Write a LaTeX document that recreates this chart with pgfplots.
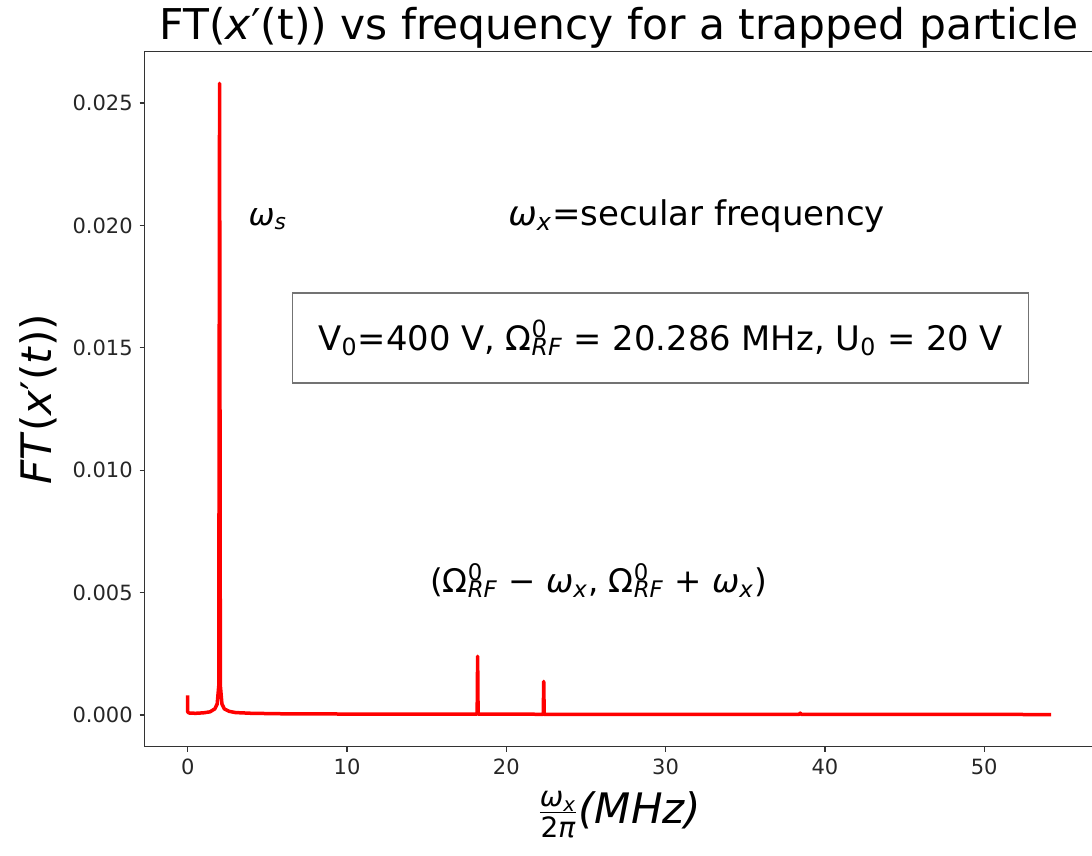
\documentclass[border=0pt]{standalone}
\usepackage{fontspec}
\setmainfont{DejaVu Sans}
\usepackage{pgfplots}
\pgfplotsset{compat=1.18}
\newcommand{\om}{\textit{ω}}
\newcommand{\Omrf}{Ω\rlap{\textsuperscript{0}}\textsubscript{\textit{RF}}}
\begin{document}
\begin{tikzpicture}
\begin{axis}[
  at={(0,0)}, anchor=south west,
  scale only axis, width=474.7pt, height=347.4pt,
  xmin=-2.7, xmax=56.9, ymin=-0.00129, ymax=0.02709,
  xtick={0,10,20,30,40,50},
  ytick={0,0.005,0.01,0.015,0.02,0.025},
  scaled y ticks=false,
  yticklabel style={/pgf/number format/.cd, fixed, fixed zerofill, precision=3},
  /pgf/number format/assume math mode=true,
  tick label style={font=\fontsize{10.5}{12}\selectfont, text=black!85},
  tick align=outside, xtick pos=left, ytick pos=left,
  major tick length=2.5pt,
  tick style={black!80, line width=0.6pt},
  axis line style={black!80, line width=0.6pt},
  clip=false,
]
\addplot[red, line width=1.75pt, line join=round] coordinates {
(0,0.00080) (0,0.00012) (0.1,0.00008) (0.5,0.00007) (1.0,0.00009) (1.4,0.00013)
(1.7,0.00025) (1.85,0.00045) (1.95,0.0012) (2.0,0.0258) (2.05,0.0012) (2.15,0.00045)
(2.3,0.00025) (2.6,0.00015) (3,0.00010) (4,0.00007) (6,0.00005) (10,0.00004)
(18.17,0.00004) (18.2,0.0024) (18.23,0.00004) (22.32,0.00003) (22.35,0.00137)
(22.38,0.00003) (38.4,0.00003) (38.45,0.00008) (38.5,0.00003) (54.2,0.00002)};
\node[anchor=base west, inner sep=0pt, font=\fontsize{15.5}{18}\selectfont] at (axis cs:3.8,0.020) {\om\textsubscript{\textit{s}}};
\node[anchor=base west, inner sep=0pt, font=\fontsize{17}{20}\selectfont] at (axis cs:20.1,0.020) {\om\textsubscript{\textit{x}}=secular frequency};
\node[draw=black!55, line width=0.6pt, minimum width=368pt, minimum height=45pt, inner sep=0pt, font=\fontsize{16.9}{20}\selectfont] at (axis cs:29.7,0.0154) {V\textsubscript{0}=400 V, \Omrf{} = 20.286 MHz, U\textsubscript{0} = 20 V};
\node[anchor=base west, inner sep=0pt, font=\fontsize{16.3}{19}\selectfont] at (axis cs:15.2,0.005) {(\Omrf{} − \om\textsubscript{\textit{x}}, \Omrf{} + \om\textsubscript{\textit{x}})};
\end{axis}
\node[anchor=base, font=\fontsize{21.2}{25}\selectfont] at (237.35pt,353.4pt) {FT(\textit{x}′(t)) vs frequency for a trapped particle};
\node[rotate=90, font=\fontsize{21}{25}\selectfont] at (-53.4pt,173.7pt) {\textit{FT}(\textit{x}′(\textit{t}))};
\node[font=\fontsize{21}{25}\selectfont] at (237.35pt,-34pt) {$\frac{\hbox{\fontsize{14}{16}\selectfont\om\textsubscript{\textit{x}}}}{\hbox{\fontsize{14}{16}\selectfont 2\textit{π}}}$\textit{(MHz)}};
\pgfresetboundingbox
\path[use as bounding box] (-72.35pt,-54.7pt) rectangle (473.65pt,373.3pt);
\end{tikzpicture}
\end{document}
